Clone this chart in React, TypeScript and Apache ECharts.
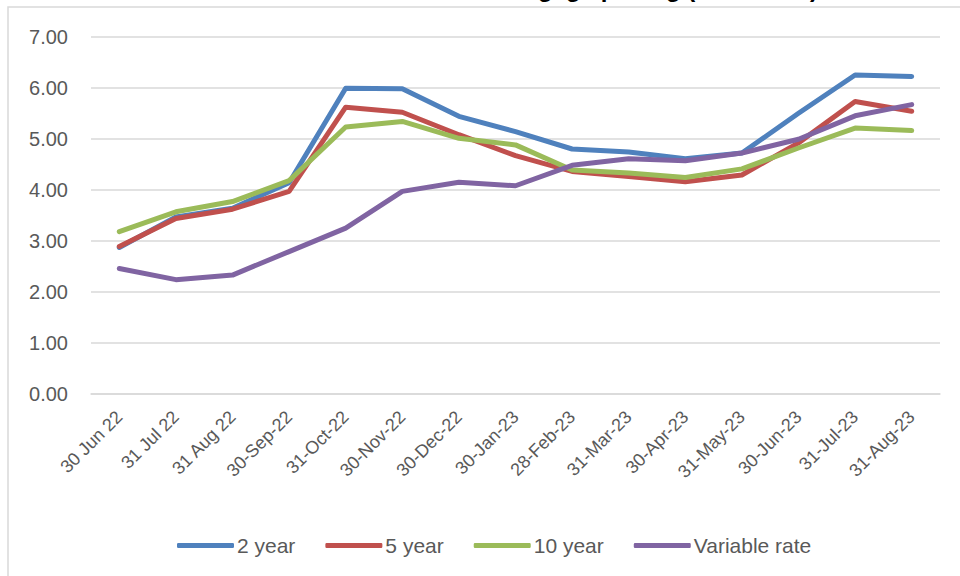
import React, { useEffect, useRef } from "react";
import * as echarts from "echarts";

const categories = [
  "30 Jun 22", "31 Jul 22", "31 Aug 22", "30-Sep-22", "31-Oct-22", "30-Nov-22",
  "30-Dec-22", "30-Jan-23", "28-Feb-23", "31-Mar-23", "30-Apr-23", "31-May-23",
  "30-Jun-23", "31-Jul-23", "31-Aug-23",
];
const twoYear = [2.87, 3.47, 3.64, 4.14, 5.99, 5.98, 5.44, 5.14, 4.8, 4.74, 4.61, 4.72, 5.5, 6.25, 6.22];
const fiveYear = [2.89, 3.44, 3.62, 3.97, 5.62, 5.52, 5.08, 4.67, 4.36, 4.26, 4.16, 4.29, 4.92, 5.73, 5.54];
const tenYear = [3.18, 3.57, 3.77, 4.18, 5.23, 5.34, 5.01, 4.88, 4.39, 4.33, 4.24, 4.41, 4.82, 5.21, 5.16];
const variableRate = [2.46, 2.24, 2.33, 2.79, 3.25, 3.97, 4.15, 4.08, 4.48, 4.61, 4.57, 4.72, 4.99, 5.45, 5.67];
const seriesNames = ["2 year", "5 year", "10 year", "Variable rate"];
const seriesColors = ["#4F81BD", "#C0504D", "#9BBB59", "#8064A2"];
const titleText = "Mortgage pricing (% interest)";

export default function App() {
  const ref = useRef<HTMLDivElement>(null);
  useEffect(() => {
    if (!ref.current) return;
    const chart = echarts.init(ref.current, null, { renderer: "svg" });
    const values = [twoYear, fiveYear, tenYear, variableRate];
    const font = "'Liberation Sans', Arial, sans-serif";
    chart.setOption({
      animation: false,
      backgroundColor: "#ffffff",
      textStyle: { fontFamily: font },
      graphic: [
        {
          type: "rect",
          shape: { x: 8, y: 7, width: 1000, height: 700 },
          style: { fill: "none", stroke: "#D9D9D9", lineWidth: 1.5 },
          silent: true,
        },
        {
          type: "text",
          x: 486,
          y: -24,
          style: {
            text: titleText,
            font: "bold 24px 'Liberation Sans', Arial, sans-serif",
            fill: "#000000",
            verticalAlign: "top",
          },
          silent: true,
        },
      ],
      grid: { left: 91, right: 20, top: 36.7, bottom: 182, containLabel: false },
      legend: {
        data: seriesNames,
        top: 530,
        left: 172,
        icon: "roundRect",
        itemWidth: 57,
        itemHeight: 5,
        itemGap: 30,
        textStyle: { color: "#595959", fontSize: 21, fontFamily: font, padding: [0, 0, 0, -2] },
      },
      xAxis: {
        type: "category",
        data: categories,
        boundaryGap: true,
        axisLine: { show: true, lineStyle: { color: "#D9D9D9", width: 1.5 } },
        axisTick: { show: false },
        axisLabel: {
          rotate: 45,
          color: "#595959",
          fontSize: 18,
          margin: 20,
          interval: 0,
          fontFamily: font,
        },
      },
      yAxis: {
        type: "value",
        min: 0,
        max: 7,
        interval: 1,
        axisLine: { show: false },
        axisTick: { show: false },
        splitLine: { lineStyle: { color: "#D9D9D9", width: 1.5 } },
        axisLabel: {
          color: "#595959",
          fontSize: 20,
          margin: 23,
          fontFamily: font,
          formatter: (v: number) => v.toFixed(2),
        },
      },
      series: seriesNames.map((name, i) => ({
        name,
        type: "line",
        data: values[i],
        symbol: "none",
        smooth: false,
        color: seriesColors[i],
        lineStyle: { width: 5, color: seriesColors[i], cap: "round", join: "round" },
      })),
    });
    return () => chart.dispose();
  }, []);
  return (
    <div
      ref={ref}
      style={{ position: "fixed", left: 0, top: 0, width: 960, height: 576 }}
    />
  );
}
